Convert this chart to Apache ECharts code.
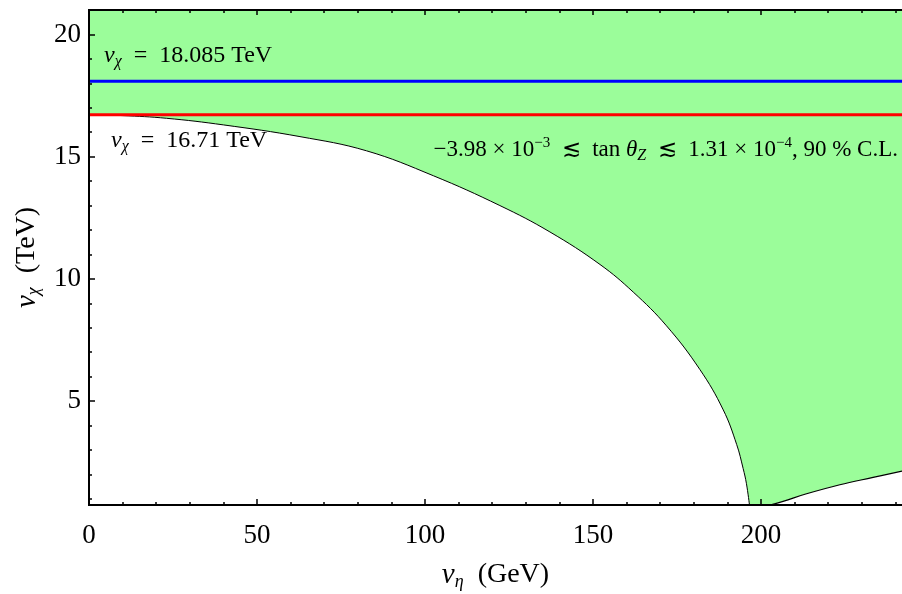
<!DOCTYPE html>
<html>
<head>
<meta charset="utf-8">
<script src="https://cdn.jsdelivr.net/npm/echarts@6/dist/echarts.min.js"></script>
<style>
html,body{margin:0;padding:0;background:#fff;}
#chart{width:902px;height:594px;}
</style>
</head>
<body>
<div id="chart"></div>
<script>
// ---- data ----
const xRange = [0, 242];
const yRange = [0.75, 21];
const xMajorTicks = [0, 50, 100, 150, 200];
const xMinorTicks = [10, 20, 30, 40, 60, 70, 80, 90, 110, 120, 130, 140, 160, 170, 180, 190, 210, 220, 230, 240];
const yMajorTicks = [5, 10, 15, 20];
const yMinorTicks = [1, 2, 3, 4, 6, 7, 8, 9, 11, 12, 13, 14, 16, 17, 18, 19, 21];
// main boundary curve (v_eta in GeV, v_chi in TeV)
const mainCurveX = [0, 10, 23.1, 40, 62.8, 82.6, 102.5, 122.3, 137.2, 152.1, 162.0, 171.9, 181.8, 188.8, 192.8, 194.7, 195.7, 196.6];
const mainCurveY = [16.71, 16.68, 16.57, 16.3, 15.82, 15.24, 14.22, 13.0, 11.92, 10.59, 9.46, 8.08, 6.3, 4.64, 3.22, 2.25, 1.62, 0.75];
// lower-right boundary curve
const rightCurveX = [202.7, 206.6, 213.6, 223.5, 233.4, 242];
const rightCurveY = [0.75, 0.9, 1.21, 1.58, 1.88, 2.14];
// horizontal reference lines
const blueLineY = 18.085;
const redLineY = 16.71;

const FONT = '"Liberation Serif", "DejaVu Serif", serif';
const GREEN = '#9bfd9a';

const mainCurve = mainCurveX.map((x, i) => [x, mainCurveY[i]]);
const rightCurve = rightCurveX.map((x, i) => [x, rightCurveY[i]]);

const chart = echarts.init(document.getElementById('chart'));

function xAxisDef(pos, ticks, len, labels, extra) {
  return Object.assign({
    type: 'value', position: pos, min: xRange[0], max: xRange[1], z: 10,
    axisLine: { show: true, onZero: false, lineStyle: { color: '#000', width: 2 } },
    axisTick: { show: true, inside: true, length: len, customValues: ticks, lineStyle: { color: '#000', width: 1.5 } },
    axisLabel: labels ? { show: true, customValues: ticks, fontFamily: FONT, fontSize: 27, color: '#000', margin: 17 } : { show: false },
    splitLine: { show: false }
  }, extra || {});
}
function yAxisDef(pos, ticks, len, labels, extra) {
  return Object.assign({
    type: 'value', position: pos, min: yRange[0], max: yRange[1], z: 10,
    axisLine: { show: true, onZero: false, lineStyle: { color: '#000', width: 2 } },
    axisTick: { show: true, inside: true, length: len, customValues: ticks, lineStyle: { color: '#000', width: 1.5 } },
    axisLabel: labels ? { show: true, customValues: ticks, fontFamily: FONT, fontSize: 27, color: '#000', margin: 8 } : { show: false },
    splitLine: { show: false }
  }, extra || {});
}

const subStyle = { fontFamily: FONT, fontStyle: 'italic', fontSize: 16, lineHeight: 16, verticalAlign: 'bottom', color: '#000' };
const supStyle = { fontFamily: FONT, fontSize: 15, lineHeight: 15, verticalAlign: 'top', color: '#000' };
const mathStyle = { fontFamily: FONT, fontStyle: 'italic', color: '#000' };

const option = {
  backgroundColor: '#fff',
  animation: false,
  grid: { left: 89, right: 0, top: 10, bottom: 89, show: true, backgroundColor: GREEN, borderWidth: 0, outerBoundsMode: 'none', containLabel: false },
  xAxis: [
    xAxisDef('bottom', xMajorTicks, 6, true, {
      name: '{v|v}{s|η}  (GeV)', nameLocation: 'middle', nameGap: 54,
      nameTextStyle: { fontFamily: FONT, fontSize: 28, color: '#000', lineHeight: 32,
        rich: { v: Object.assign({ fontSize: 29, lineHeight: 32 }, mathStyle), s: Object.assign({}, subStyle, { fontSize: 18, lineHeight: 18 }) } }
    }),
    xAxisDef('bottom', xMinorTicks, 3, false),
    xAxisDef('top', xMajorTicks, 5, false),
    xAxisDef('top', xMinorTicks, 3, false)
  ],
  yAxis: [
    yAxisDef('left', yMajorTicks, 6, true, {
      name: '{v|v}{s|χ}  (TeV)', nameLocation: 'middle', nameGap: 44, nameRotate: 90,
      nameTextStyle: { fontFamily: FONT, fontSize: 28, color: '#000', lineHeight: 32,
        rich: { v: Object.assign({ fontSize: 29, lineHeight: 32 }, mathStyle), s: Object.assign({}, subStyle, { fontSize: 18, lineHeight: 18 }) } }
    }),
    yAxisDef('left', yMinorTicks, 3, false)
  ],
  series: [
    {
      type: 'line', xAxisIndex: 0, yAxisIndex: 0, data: mainCurve,
      smooth: 0.4, showSymbol: false, symbol: 'none', z: 2,
      lineStyle: { color: '#000', width: 1 },
      areaStyle: { color: '#fff', opacity: 1, origin: 'start' }
    },
    {
      type: 'line', xAxisIndex: 0, yAxisIndex: 0, data: rightCurve,
      smooth: 0.4, showSymbol: false, symbol: 'none', z: 2,
      lineStyle: { color: '#000', width: 1.2 },
      areaStyle: { color: '#fff', opacity: 1, origin: 'start' }
    },
    {
      type: 'line', xAxisIndex: 0, yAxisIndex: 0, data: [[xRange[0], blueLineY], [xRange[1], blueLineY]],
      showSymbol: false, symbol: 'none', z: 5, lineStyle: { color: '#0000ff', width: 3 }
    },
    {
      type: 'line', xAxisIndex: 0, yAxisIndex: 0, data: [[xRange[0], redLineY], [xRange[1], redLineY]],
      showSymbol: false, symbol: 'none', z: 5, lineStyle: { color: '#ff0000', width: 3 }
    }
  ],
  graphic: [
    {
      type: 'text', left: 104, top: 44, z: 20,
      style: {
        text: '{v|v}{s|χ}{t|  =  18.085 TeV}',
        rich: {
          v: Object.assign({ fontSize: 24, lineHeight: 28 }, mathStyle),
          s: subStyle,
          t: { fontFamily: FONT, fontSize: 24, lineHeight: 28, color: '#000' }
        }
      }
    },
    {
      type: 'text', left: 111, top: 129, z: 20,
      style: {
        text: '{v|v}{s|χ}{t|  =  16.71 TeV}',
        rich: {
          v: Object.assign({ fontSize: 24, lineHeight: 28 }, mathStyle),
          s: subStyle,
          t: { fontFamily: FONT, fontSize: 24, lineHeight: 28, color: '#000' }
        }
      }
    },
    {
      type: 'text', right: 4, top: 136, z: 20,
      style: {
        text: '{t|−3.98 × 10}{p|−3}{t|  ≲  tan }{m|θ}{s|Z}{t|  ≲  1.31 × 10}{p|−4}{t|, 90 % C.L.}',
        rich: {
          t: { fontFamily: FONT, fontSize: 23, lineHeight: 28, color: '#000' },
          m: Object.assign({ fontSize: 23, lineHeight: 28 }, mathStyle),
          s: subStyle,
          p: supStyle
        }
      }
    }
  ]
};
chart.setOption(option);
</script>
</body>
</html>
